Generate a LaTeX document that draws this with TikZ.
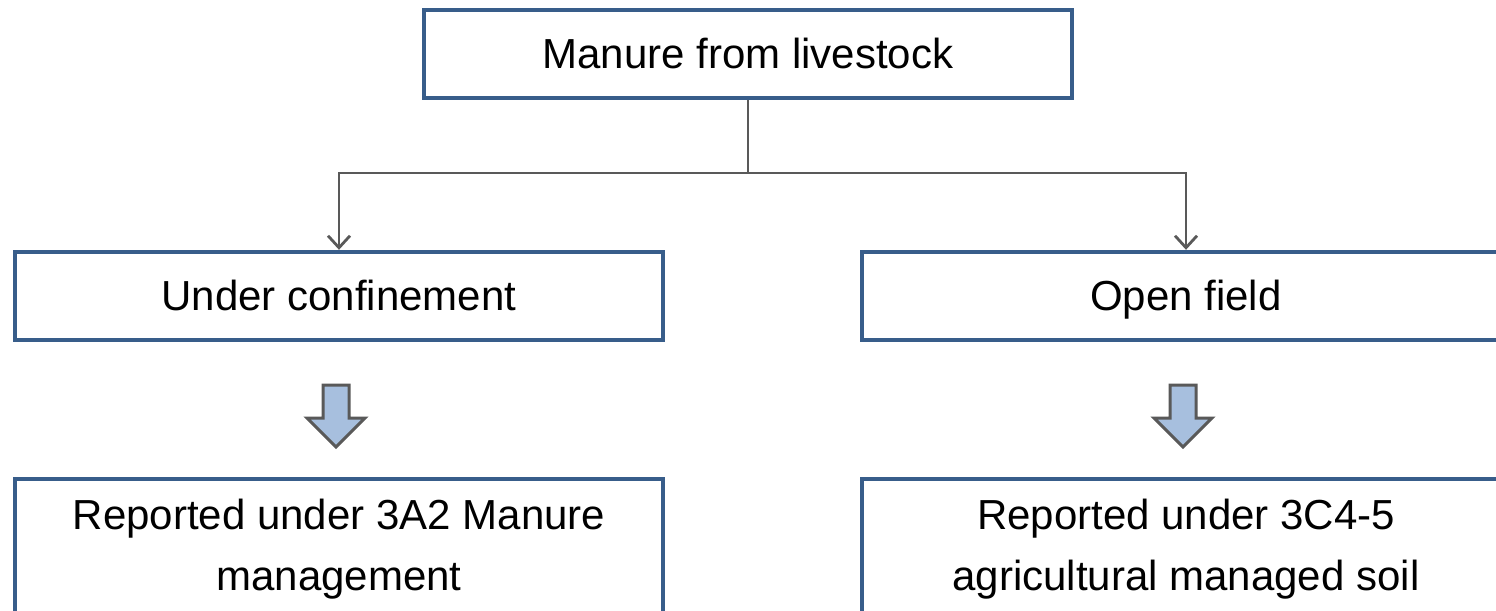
\documentclass[tikz,border=0pt]{standalone}
\usepackage{fontspec}
\setmainfont{Liberation Sans}
\usetikzlibrary{arrows.meta}
\definecolor{boxblue}{HTML}{385D8A}
\definecolor{linegray}{HTML}{595959}
\definecolor{arrowfill}{HTML}{A7BFDE}
\tikzset{
  box/.style={draw=boxblue, line width=2.2pt, fill=white, inner sep=0pt,
    minimum width=324pt, minimum height=44pt, font=\fontsize{21}{30.5}\selectfont},
  onebox/.style={box, text height=17pt, text depth=2.4pt},
  tallbox/.style={box, minimum height=68pt},
  boxtext/.style={inner sep=0pt, align=center, font=\fontsize{21}{30.5}\selectfont},
  conn/.style={draw=linegray, line width=1.4pt, -{Straight Barb[length=6pt,width=11pt,line width=1.4pt]}},
  blockarrow/.style={draw=linegray, line width=1.5pt, fill=arrowfill, line join=miter}
}
\begin{document}
\begin{tikzpicture}[x=0.5pt,y=-0.5pt]
\useasboundingbox (0,0) rectangle (1496,611);
\node[onebox] (top) at (748,54) {Manure from livestock};
\node[onebox] (left) at (339,296) {Under confinement};
\node[onebox] (right) at (1186,296) {Open field};
\node[tallbox] (bl) at (339,547) {};
\node[tallbox] (br) at (1186,547) {};
\node[boxtext] (blt) at (339,549) {Reported under 3A2 Manure\\management};
\node[boxtext] (brt) at (1186,549) {Reported under 3C4-5\\agricultural managed soil};
\coordinate (split) at (748,173);
\draw[draw=linegray, line width=1.4pt] (top.south) -- (split);
\draw[conn] (split) -| (left.north);
\draw[conn] (split) -| (right.north);
\draw[blockarrow] (323,385) -- (349,385) -- (349,418) -- (365,418) -- (336,447) -- (307,418) -- (323,418) -- cycle;
\draw[blockarrow] (1170,385) -- (1196,385) -- (1196,418) -- (1212,418) -- (1183,447) -- (1154,418) -- (1170,418) -- cycle;
\end{tikzpicture}
\end{document}
